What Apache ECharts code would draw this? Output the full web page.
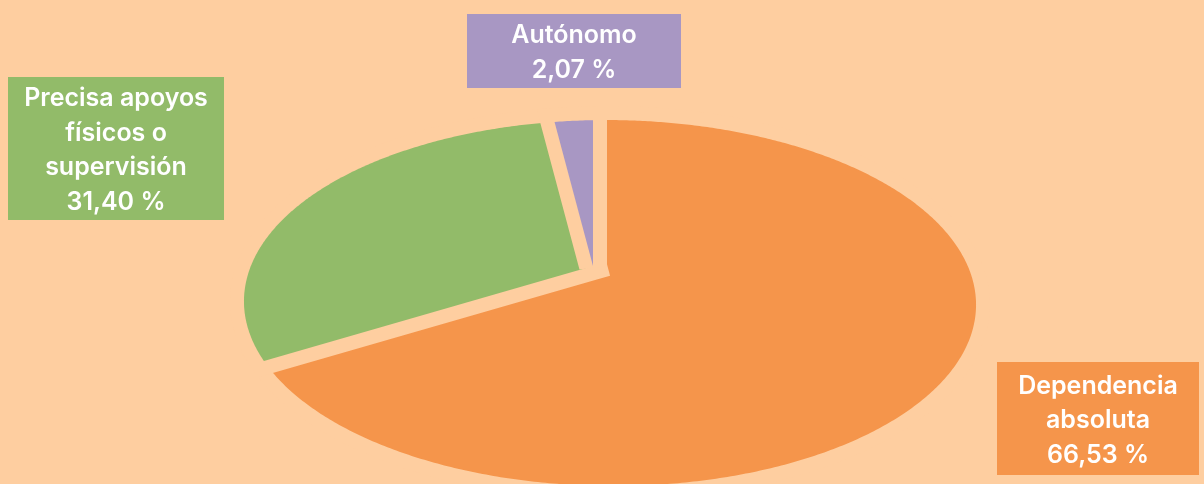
<!DOCTYPE html>
<html>
<head>
<meta charset="utf-8">
<script src="https://cdn.jsdelivr.net/npm/echarts@6/dist/echarts.min.js"></script>
<style>
  html, body { margin: 0; padding: 0; background: #fecea0; }
  #chart { width: 1204px; height: 484px; }
</style>
</head>
<body>
<div id="chart"></div>
<script>
const categories = ['Dependencia\nabsoluta', 'Precisa apoyos\nfísicos o\nsupervisión', 'Autónomo'];
const values = [66.53, 31.40, 2.07];
const colors = ['#f5954b', '#92bb69', '#a897c3'];

const bg = '#fecea0';
// label boxes: x, y, width, height
const boxes = [[997, 362, 202, 113], [8, 77, 216, 143], [467, 14, 214, 74]];
// tilted pie (perspective view): center, radii, tilt
const cx = 593, cy = 266, rx = 357.7, ry = 175.3, kv = 0.2022, ku = 0.0455;

const total = values.reduce((s, x) => s + x, 0);

function project(deg) {
  const a = deg * Math.PI / 180;
  const u = Math.sin(a), v = -Math.cos(a);
  const w = 1 - kv * v - ku * u;
  return [cx + rx * u / w, cy + ry * v / w];
}

function renderItem(params, api) {
  const i = params.dataIndex;
  const val = api.value(0);
  let start = 0;
  for (let j = 0; j < i; j++) start += values[j];
  const a0 = start / total * 360;
  const a1 = (start + val) / total * 360;
  const pts = [[cx, cy]];
  const n = Math.max(2, Math.ceil((a1 - a0) / 0.5));
  for (let s = 0; s <= n; s++) pts.push(project(a0 + (a1 - a0) * s / n));
  const b = boxes[i];
  const label = categories[i] + '\n' + val.toFixed(2).replace('.', ',') + ' %';
  return {
    type: 'group',
    children: [
      {
        // stroke drawn under the fill: each slice cuts a gap into the ones drawn before it
        type: 'polygon',
        shape: { points: pts },
        style: {
          fill: colors[i], stroke: bg, lineWidth: 28,
          lineJoin: 'miter', miterLimit: 2, strokeFirst: true
        }
      },
      {
        type: 'rect',
        shape: { x: b[0], y: b[1], width: b[2], height: b[3] },
        style: { fill: colors[i] }
      },
      {
        type: 'text',
        x: b[0] + b[2] / 2,
        y: b[1] + b[3] / 2 + 2,
        style: {
          text: label,
          fill: '#ffffff',
          font: '600 25px Inter',
          align: 'center',
          verticalAlign: 'middle',
          lineHeight: 34.5
        }
      }
    ]
  };
}

const chart = echarts.init(document.getElementById('chart'));
chart.setOption({
  backgroundColor: bg,
  animation: false,
  series: [
    {
      type: 'custom',
      coordinateSystem: 'none',
      renderItem: renderItem,
      data: values
    }
  ]
});
</script>
</body>
</html>
